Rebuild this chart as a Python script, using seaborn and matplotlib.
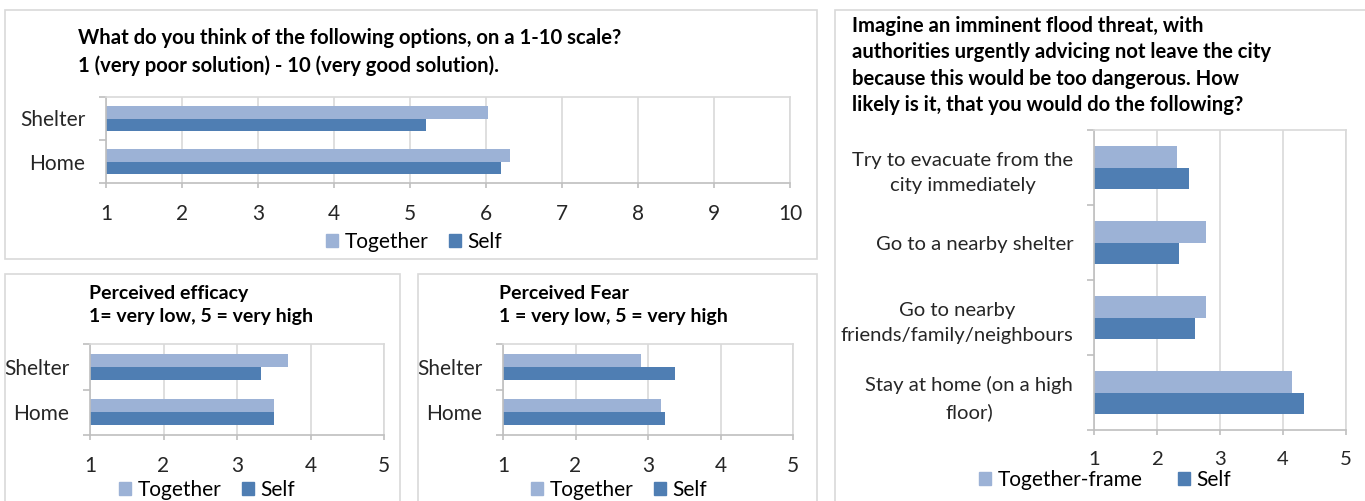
import numpy as np
import pandas as pd
import matplotlib
matplotlib.use('Agg')
import matplotlib.pyplot as plt
from matplotlib.patches import Rectangle, Patch
import seaborn as sns

# 데이터
options = ['Shelter', 'Home']
groups = ['Together', 'Self']
scale_together = [6.03, 6.32]
scale_self = [5.21, 6.20]
efficacy_together = [3.70, 3.50]
efficacy_self = [3.32, 3.50]
fear_together = [2.90, 3.18]
fear_self = [3.37, 3.24]

actions = ['Try to evacuate from the\ncity immediately',
           'Go to a nearby shelter',
           'Go to nearby\nfriends/family/neighbours',
           'Stay at home (on a high\nfloor)']
flood_groups = ['Together-frame', 'Self']
flood_together = [2.32, 2.77, 2.77, 4.15]
flood_self = [2.50, 2.35, 2.61, 4.34]

title_scale = ['What do you think of the following options, on a 1-10 scale?',
               '1 (very poor solution) - 10 (very good solution).']
title_efficacy = ['Perceived efficacy', '1= very low, 5 = very high']
title_fear = ['Perceived Fear', '1 = very low, 5 = very high']
title_flood = ['Imagine an imminent flood threat, with',
               'authorities urgently advicing not leave the city',
               'because this would be too dangerous. How',
               'likely is it, that you would do the following?']

colors = ['#9CB2D6', '#4F7EB3']
grid_c = '#D9D9D9'
axis_c = '#BFBFBF'

sns.set_style('white')
plt.rcParams['font.family'] = ['Lato', 'DejaVu Sans']
plt.rcParams['text.color'] = 'black'

W, H = 1365, 501
fig = plt.figure(figsize=(W / 100, H / 100), dpi=100)


def px_axes(left, top, right, bottom):
    return fig.add_axes([left / W, 1 - bottom / H, (right - left) / W, (bottom - top) / H])


def px_text(x, y, s, size, **kw):
    fig.text(x / W, 1 - y / H, s, fontsize=size, va='baseline', ha='left', **kw)


def box(left, top, right, bottom):
    fig.add_artist(Rectangle((left / W, 1 - bottom / H), (right - left) / W, (bottom - top) / H,
                             transform=fig.transFigure, fill=False, ec=grid_c, lw=1.2))


def bars(ax, cats, hues, a, b, xmax, fs):
    df = pd.DataFrame({'cat': cats * 2,
                       'grp': [hues[0]] * len(cats) + [hues[1]] * len(cats),
                       'val': list(a) + list(b)})
    sns.barplot(data=df, y='cat', x='val', hue='grp', order=cats, hue_order=hues,
                palette=colors, orient='h', width=0.571, saturation=1, ax=ax,
                legend=False, linewidth=0)
    ax.set_xlim(1, xmax)
    ax.set_ylim(len(cats) - 0.5, -0.5)
    ax.set_xlabel('')
    ax.set_ylabel('')
    ax.set_xticks(range(1, xmax + 1))
    ax.xaxis.grid(True, color=grid_c, lw=1.2)
    ax.set_axisbelow(True)
    ax.set_yticks(range(len(cats)))
    ax.set_yticks(np.arange(len(cats) + 1) - 0.5, minor=True)
    ax.tick_params(axis='y', which='major', length=0, pad=15, labelsize=fs)
    ax.tick_params(axis='y', which='minor', length=5, color=axis_c, width=1.2, left=True)
    ax.tick_params(axis='x', length=3.6, color=axis_c, width=1.2, labelsize=fs, pad=11.5, bottom=True)
    for lab in ax.get_yticklabels():
        lab.set_multialignment('center')
        lab.set_linespacing(1.6)
    for side in ['left', 'bottom']:
        ax.spines[side].set_color(axis_c)
        ax.spines[side].set_linewidth(1.2)
    for side in ['top', 'right']:
        ax.spines[side].set_color(grid_c)
        ax.spines[side].set_linewidth(1.2)


def legend(cx, cy, hues, fs, spacing):
    handles = [Patch(color=c, label=h) for c, h in zip(colors, hues)]
    fig.legend(handles=handles, loc='center', bbox_to_anchor=(cx / W, 1 - cy / H), ncol=2,
               frameon=False, fontsize=fs, handlelength=0.6, handleheight=0.6,
               handletextpad=0.3, columnspacing=spacing, borderpad=0)


# 패널 테두리
box(5, 10, 817, 259)
box(5, 274, 400, 520)
box(418, 274, 817, 520)
box(835, 10, 1380, 520)

# 1-10 점수
ax1 = px_axes(106, 97, 790, 183)
bars(ax1, options, groups, scale_together, scale_self, 10, 15)
px_text(78, 44, title_scale[0], 14.6, fontweight='bold')
px_text(78, 72, title_scale[1], 14.6, fontweight='bold')
legend(414, 242, groups, 15, 1.0)

# Perceived efficacy
ax2 = px_axes(90, 344, 384, 435)
bars(ax2, options, groups, efficacy_together, efficacy_self, 5, 15)
px_text(89, 299, title_efficacy[0], 14, fontweight='bold')
px_text(89, 322, title_efficacy[1], 14, fontweight='bold')
legend(207, 490, groups, 15, 1.0)

# Perceived Fear
ax3 = px_axes(503, 344, 793, 435)
bars(ax3, options, groups, fear_together, fear_self, 5, 15)
px_text(499, 299, title_fear[0], 14, fontweight='bold')
px_text(499, 322, title_fear[1], 14, fontweight='bold')
legend(619, 490, groups, 15, 1.0)

# 홍수 상황
ax4 = px_axes(1094, 130, 1346, 430)
bars(ax4, actions, flood_groups, flood_together, flood_self, 5, 14.6)
for i, line in enumerate(title_flood):
    px_text(852, 32 + 26.3 * i, line, 14.6, fontweight='bold')
legend(1105, 480, flood_groups, 15, 1.7)

plt.savefig('out.png', dpi=100)
